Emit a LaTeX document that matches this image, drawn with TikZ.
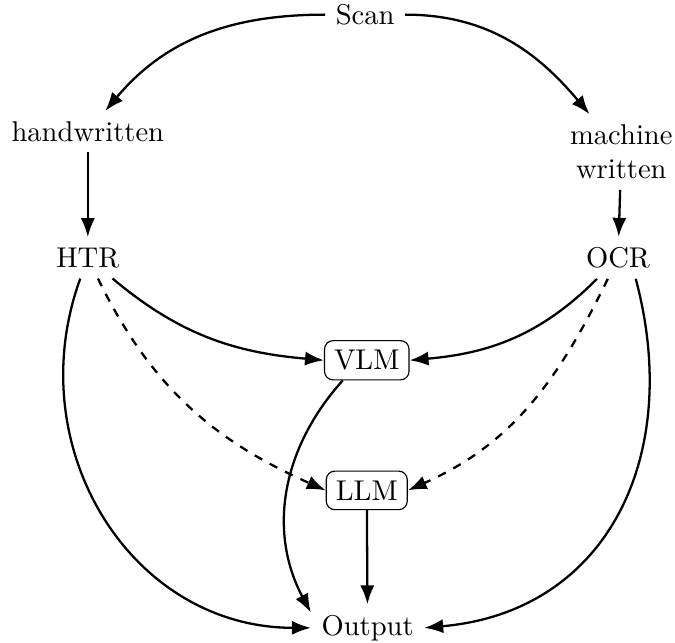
\documentclass[tikz,border=0pt]{standalone}
\usetikzlibrary{arrows,arrows.meta,positioning}

\begin{document}
\begin{tikzpicture}[>=Latex,every path/.style={thick},
    box/.style={draw,thin,rounded corners=3pt},
    flow/.style={->},
    maybe/.style={->,dashed}]

  \useasboundingbox (0,0) rectangle (8.30,7.90);

  \node (scan) at (4.49,7.72) {Scan};
  \node (hand) at (1.08,6.28) {handwritten};
  \node[align=center] (mach) at (7.64,6.03) {machine\\written};
  \node (htr) at (1.08,4.73) {HTR};
  \node (ocr) at (7.60,4.73) {OCR};
  \node[box] (vlm) at (4.51,3.47) {VLM};
  \node[box] (llm) at (4.51,1.87) {LLM};
  \node (out) at (4.52,0.18) {Output};

  \draw[flow] (scan) to[out=180,in=50] (hand);
  \draw[flow] (scan) to[out=0,in=130] (mach);
  \draw[flow] (hand) -- (htr);
  \draw[flow] (mach) -- (ocr);

  \draw[flow] (htr) to[out=-40,in=175] (vlm.west);
  \draw[flow] (ocr) to[out=-135,in=5] (vlm.east);
  \draw[maybe] (htr) to[out=-64,in=156] (llm.west);
  \draw[maybe] (ocr) to[out=-116,in=24] (llm.east);

  \draw[flow] (htr) to[out=-110,in=180,looseness=1.1] (out.west);
  \draw[flow] (ocr.-50) to[out=-75,in=5,looseness=1.15] (out.east);
  \draw[flow] (vlm.-140) to[out=-132,in=118] (out.165);
  \draw[flow] (llm) -- (out);
\end{tikzpicture}
\end{document}
